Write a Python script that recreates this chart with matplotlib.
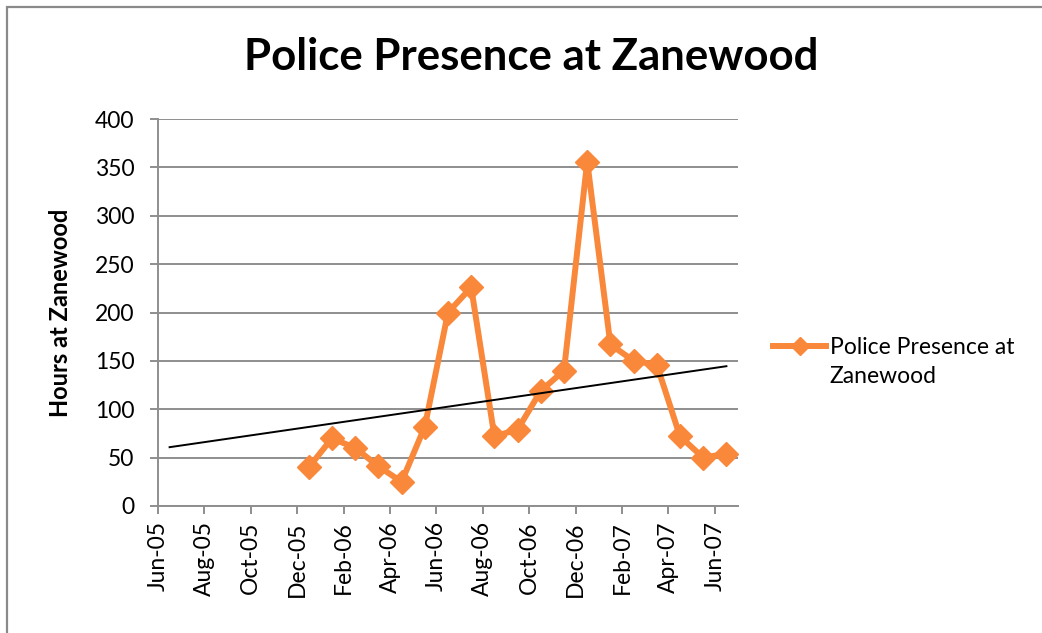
import numpy as np
import matplotlib
matplotlib.use("Agg")
import matplotlib.pyplot as plt
from matplotlib.patches import Rectangle
from matplotlib.legend_handler import HandlerLine2D

plt.rcParams['font.family'] = ['Lato', 'DejaVu Sans']

# months counted from Jun-05 (0) ; tick labels every 2 months
tick_labels = ['Jun-05', 'Aug-05', 'Oct-05', 'Dec-05', 'Feb-06', 'Apr-06', 'Jun-06',
               'Aug-06', 'Oct-06', 'Dec-06', 'Feb-07', 'Apr-07', 'Jun-07']
# monthly data Dec-05 .. Jun-07 (month index 6 .. 24)
month_idx = list(range(6, 25))
hours = [40, 70, 60, 41, 25, 82, 200, 226, 72, 79, 119, 140, 356, 167, 150, 146, 72, 50, 54]

orange = '#F9883A'
grid_gray = '#8E8E8E'
fs = 16.5


# legend handle lifted up to sit next to the first text line
class UpHandler(HandlerLine2D):
    def create_artists(self, legend, orig_handle, xdescent, ydescent, width, height, fontsize, trans):
        arts = super().create_artists(legend, orig_handle, xdescent, ydescent, width, height, fontsize, trans)
        for a in arts:
            a.set_ydata(np.asarray(a.get_ydata()) + 12)
        return arts


fig = plt.figure(figsize=(10.42, 6.33), dpi=100)
ax = fig.add_axes([158 / 1042, 1 - 506 / 633, (738 - 158) / 1042, (506 - 119) / 633])

x = np.array(month_idx) + 0.5   # points sit between tick marks
y = np.array(hours)

line, = ax.plot(x, y, color=orange, lw=4.3, marker='D', markersize=12,
                markeredgecolor=orange, markerfacecolor=orange,
                label='Police Presence at\nZanewood', zorder=3)

# linear trendline
k, b = np.polyfit(x, y, 1)
tx = np.array([0.5, 24.5])
ax.plot(tx, k * tx + b, color='black', lw=1.4, zorder=4)

ax.set_xlim(0, 25)
ax.set_ylim(0, 400)
ax.set_yticks(range(0, 401, 50))
ax.set_xticks(range(0, 25, 2))
ax.set_xticklabels(tick_labels, rotation=90)
ax.yaxis.grid(True, color=grid_gray, lw=1.4)
ax.set_axisbelow(True)
for s in ['top', 'right']:
    ax.spines[s].set_visible(False)
for s in ['left', 'bottom']:
    ax.spines[s].set_color(grid_gray)
    ax.spines[s].set_linewidth(1.4)
ax.tick_params(axis='both', direction='out', length=6, width=1.4, color=grid_gray,
               labelsize=fs, labelcolor='black')
ax.tick_params(axis='x', pad=5)
ax.tick_params(axis='y', pad=11)

fig.text(531 / 1042, 1 - 57 / 633, 'Police Presence at Zanewood', ha='center', va='center',
         fontsize=31.5, fontweight='bold')
fig.text(60 / 1042, 1 - 313 / 633, 'Hours at Zanewood', ha='center', va='center',
         rotation=90, fontsize=17, fontweight='bold')

leg = ax.legend(loc='center left', bbox_to_anchor=(752 / 1042, 1 - 362 / 633),
                bbox_transform=fig.transFigure, frameon=False, fontsize=fs,
                handlelength=2.35, handletextpad=0.15, markerscale=0.75,
                handler_map={line: UpHandler()})
for t in leg.get_texts():
    t.set_linespacing(1.5)

# chart border
fig.patches.append(Rectangle((7 / 1042, -0.1), 1.2, 1 - 7 / 633 + 0.1, transform=fig.transFigure,
                             fill=False, edgecolor='#8A8A8A', lw=1.6))

fig.savefig('out.png', dpi=100)
